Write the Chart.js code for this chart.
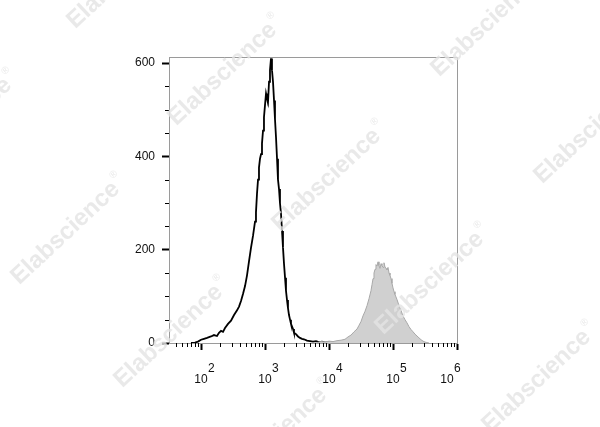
<!DOCTYPE html>
<html><head><meta charset="utf-8">
<script src="https://cdn.jsdelivr.net/npm/chart.js@4/dist/chart.umd.min.js"></script>
<style>html,body{margin:0;padding:0;background:#fff}#wrap{width:600px;height:427px;position:relative}</style>
</head><body><div id="wrap"><canvas id="c" width="600" height="427"></canvas></div>
<script>
// Black (unstained / isotype) histogram: log10 of fluorescence, and event counts
const blackLog = [1.844,1.906,1.953,2.000,2.047,2.094,2.156,2.203,2.250,2.281,2.313,2.344,2.375,2.422,2.469,2.516,2.563,2.594,2.625,2.656,2.688,2.719,2.750,2.781,2.813,2.844,2.859,2.875,2.891,2.906,2.922,2.938,2.953,2.969,2.984,3.000,3.016,3.031,3.047,3.063,3.078,3.094,3.109,3.125,3.141,3.156,3.172,3.188,3.203,3.219,3.234,3.250,3.266,3.281,3.297,3.313,3.328,3.344,3.359,3.375,3.391,3.406,3.438,3.453,3.484,3.516,3.547,3.578,3.609,3.656,3.703,3.750,3.797,3.844,3.891,3.938,3.984,4.031,4.078];
const blackCounts = [0,1,3,7,9,11,14,17,15,22,26,24,32,41,48,60,70,78,90,105,122,145,175,204,230,260,280,320,350,376,395,405,428,455,484,510,535,525,516,560,585,610,585,560,520,480,441,395,350,330,300,277,240,205,170,140,112,92,75,60,50,41,30,22,19,14,11,9,8,5,4,3,4,2,3,1,2,1,0];
// Grey filled (stained) histogram
const grayLog = [3.813,3.875,3.938,4.000,4.063,4.125,4.188,4.250,4.297,4.344,4.391,4.438,4.469,4.500,4.531,4.563,4.594,4.625,4.656,4.672,4.688,4.703,4.719,4.734,4.750,4.766,4.781,4.797,4.813,4.828,4.844,4.859,4.875,4.891,4.906,4.922,4.938,4.953,4.969,4.984,5.000,5.016,5.031,5.063,5.094,5.125,5.156,5.188,5.219,5.250,5.281,5.313,5.344,5.375,5.406,5.438,5.469,5.500,5.531,5.563];
const grayCounts = [1,3,2,4,3,5,6,8,13,17,24,30,38,46,58,68,80,95,112,125,138,150,158,168,165,174,166,160,170,166,162,172,163,160,157,162,150,145,138,128,118,110,104,93,80,70,58,50,43,35,29,24,19,15,11,7,4,2,1,0];
// Axes
const xMajorExponents = [2,3,4,5,6];
const yTickValues = [0,200,400,600];
const yMinorStep = 50;
const watermarkText = 'Elabscience';
const watermarkCenters = [[125,-26],[226,71],[330,177],[433,280],[540,378],[-39,126],[69,230],[172,333],[276,436],[489,22],[592,129]];

const FONT = '"Liberation Sans", Arial, sans-serif';

const decorPlugin = {
  id: 'decor',
  afterDraw(chart) {
    const ctx = chart.ctx, a = chart.chartArea;
    const xs = chart.scales.x, ys = chart.scales.y;
    ctx.save();
    // top and right frame
    ctx.strokeStyle = '#9a9a9a'; ctx.lineWidth = 1;
    ctx.beginPath();
    ctx.moveTo(a.left, a.top + 0.5); ctx.lineTo(a.right + 0.5, a.top + 0.5);
    ctx.lineTo(a.right + 0.5, a.bottom);
    ctx.stroke();
    // minor x ticks (log)
    ctx.strokeStyle = '#000'; ctx.lineWidth = 1;
    ctx.beginPath();
    for (let e = 1; e <= 5; e++) {
      for (let m = 2; m <= 9; m++) {
        const v = m * Math.pow(10, e);
        if (v < xs.min || v > xs.max) continue;
        const px = Math.round(xs.getPixelForValue(v)) + 0.5;
        ctx.moveTo(px, a.bottom); ctx.lineTo(px, a.bottom + 4);
      }
    }
    // minor y ticks
    for (let v = yMinorStep; v < ys.max; v += yMinorStep) {
      if (yTickValues.includes(v)) continue;
      const py = Math.round(ys.getPixelForValue(v)) + 0.5;
      ctx.moveTo(a.left - 4, py); ctx.lineTo(a.left, py);
    }
    ctx.stroke();
    // x labels 10^n
    ctx.fillStyle = '#111';
    ctx.textBaseline = 'alphabetic';
    xMajorExponents.forEach((e, i) => {
      let px = xs.getPixelForValue(Math.pow(10, e));
      if (i === xMajorExponents.length - 1) px -= 10;
      ctx.font = '12px ' + FONT;
      ctx.textAlign = 'center';
      ctx.fillText('10', px, 383);
      ctx.textAlign = 'left';
      ctx.fillText(String(e), px + 7, 372);
    });
    // watermark
    ctx.fillStyle = 'rgba(228,228,228,0.8)';
    ctx.textBaseline = 'middle';
    ctx.textAlign = 'left';
    watermarkCenters.forEach(([cx, cy]) => {
      ctx.save();
      ctx.translate(cx, cy);
      ctx.rotate(-43 * Math.PI / 180);
      ctx.font = 'bold 24px ' + FONT;
      const w = ctx.measureText(watermarkText).width;
      ctx.font = '10px ' + FONT;
      const r = ctx.measureText('\u00AE').width;
      const start = -(w + r + 2) / 2;
      ctx.font = 'bold 24px ' + FONT;
      ctx.fillText(watermarkText, start, 0);
      ctx.font = '10px ' + FONT;
      ctx.fillText('\u00AE', start + w + 2, -10);
      ctx.restore();
    });
    ctx.restore();
  }
};

new Chart(document.getElementById('c'), {
  type: 'line',
  data: {
    datasets: [
      {
        label: 'stained',
        data: grayLog.map((l, i) => ({ x: Math.pow(10, l), y: grayCounts[i] })),
        borderColor: '#a8a8a8', borderWidth: 1,
        backgroundColor: '#d0d0d0', fill: 'origin',
        pointRadius: 0, tension: 0
      },
      {
        label: 'control',
        data: blackLog.map((l, i) => ({ x: Math.pow(10, l), y: blackCounts[i] })),
        borderColor: '#000', borderWidth: 1.8,
        fill: false, pointRadius: 0, tension: 0
      }
    ]
  },
  options: {
    responsive: false, animation: false, devicePixelRatio: 1,
    layout: { padding: { top: 57, right: 143, left: 0, bottom: 0 } },
    plugins: { legend: { display: false }, tooltip: { enabled: false } },
    scales: {
      x: {
        type: 'logarithmic', min: Math.pow(10, 1.5), max: 1e6,
        afterBuildTicks: s => { s.ticks = xMajorExponents.map(e => ({ value: Math.pow(10, e), major: true })); },
        afterFit: s => { s.height = 84; },
        ticks: { display: false },
        grid: { drawOnChartArea: false, drawTicks: true, tickLength: 7, tickWidth: 2, tickColor: '#000' },
        border: { color: '#9a9a9a', width: 1 }
      },
      y: {
        min: 0, max: 613,
        afterBuildTicks: s => { s.ticks = yTickValues.map(v => ({ value: v })); },
        afterFit: s => { s.width = 169; },
        ticks: { font: { family: FONT, size: 12 }, color: '#111', padding: 7 },
        grid: { drawOnChartArea: false, drawTicks: true, tickLength: 7, tickWidth: 2, tickColor: '#000' },
        border: { color: '#9a9a9a', width: 1 }
      }
    }
  },
  plugins: [decorPlugin]
});
</script></body></html>
